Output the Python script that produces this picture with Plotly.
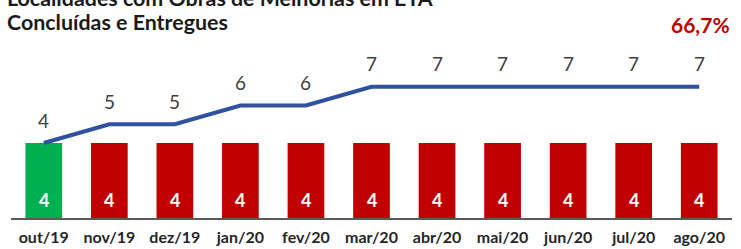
import plotly.graph_objects as go

meses = ["out/19", "nov/19", "dez/19", "jan/20", "fev/20", "mar/20",
         "abr/20", "mai/20", "jun/20", "jul/20", "ago/20"]
concluidas = [4, 4, 4, 4, 4, 4, 4, 4, 4, 4, 4]
meta = [4, 5, 5, 6, 6, 7, 7, 7, 7, 7, 7]
cores_barras = ["#00B050"] + ["#C00000"] * 10
titulo_l1 = "Localidades com Obras de Melhorias em ETA"
titulo_l2 = "Concluídas e Entregues"
percentual = "66,7%"

FONT = "Lato"
T = 60
PH = 158


def ypx(px):
    return 1 + (T - px) / PH


fig = go.Figure()
fig.add_trace(go.Bar(
    x=meses, y=concluidas, marker=dict(color=cores_barras, line=dict(width=0)),
    hoverinfo="skip",
))
fig.add_trace(go.Scatter(
    x=meses, y=meta, mode="lines",
    line=dict(color="#2F52A0", width=4),
    hoverinfo="skip",
))

anns = []
for m, v in zip(meses, meta):
    anns.append(dict(x=m, y=v, text=str(v), showarrow=False, yanchor="middle",
                     yshift=23, font=dict(family=FONT, size=19, color="#404040")))
for m, v in zip(meses, concluidas):
    anns.append(dict(x=m, y=0, text="<b>%d</b>" % v, showarrow=False, yanchor="middle",
                     yshift=18, font=dict(family=FONT, size=18, color="white")))

anns += [
    dict(text="<b>" + titulo_l1 + "</b>", xref="paper", yref="paper",
         x=-0.008, y=ypx(-1.5), xanchor="left", yanchor="middle",
         showarrow=False, font=dict(family=FONT, size=21.4, color="#1a1a1a")),
    dict(text="<b>" + titulo_l2 + "</b>", xref="paper", yref="paper",
         x=-0.008, y=ypx(22), xanchor="left", yanchor="middle",
         showarrow=False, font=dict(family=FONT, size=21.4, color="#1a1a1a")),
    dict(text="<b>" + percentual + "</b>", xref="paper", yref="paper",
         x=1.0, y=ypx(24), xanchor="right", yanchor="middle",
         showarrow=False, font=dict(family=FONT, size=21, color="#C00000")),
]

fig.update_layout(
    width=741, height=249,
    margin=dict(l=11, r=9, t=T, b=249 - T - PH, autoexpand=False),
    paper_bgcolor="white", plot_bgcolor="white",
    showlegend=False, bargap=0.44,
    xaxis=dict(showgrid=False, showline=True, linecolor="#595959", linewidth=1.5,
               ticks="", ticklabelstandoff=4, automargin=False,
               tickfont=dict(family=FONT, size=16, color="#262626", weight="bold"),
               range=[-0.5, 10.5]),
    yaxis=dict(visible=False, range=[0, 8.43], automargin=False),
    annotations=anns,
)

fig.write_html("out.html", config={"displayModeBar": False},
               post_script="document.body.style.margin='0';")
